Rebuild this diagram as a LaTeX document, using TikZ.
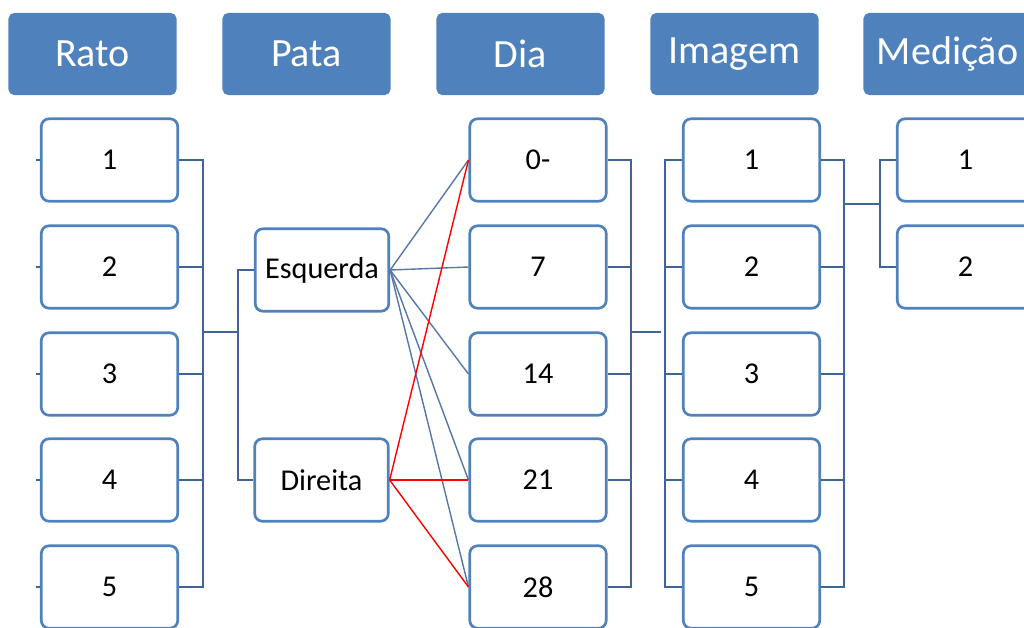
\documentclass[tikz,border=0pt]{standalone}
\usepackage{fontspec}
\setmainfont{Carlito}

\definecolor{boxblue}{RGB}{79,129,189}
\definecolor{linkblue}{RGB}{64,100,150}
\definecolor{thinblue}{RGB}{88,118,168}

\begin{document}
\begin{tikzpicture}[x=0.025cm, y=-0.025cm, font=\fontsize{21.5}{24}\selectfont]

  \tikzstyle{head}=[fill=boxblue, text=white,
    rounded corners=4pt,
    minimum width=4.2cm, minimum height=2.05cm,
    inner sep=0, font=\fontsize{28.5}{32}\selectfont]

  \tikzstyle{item}=[draw=boxblue, fill=white,
    line width=1.9pt, rounded corners=5.5pt,
    minimum width=3.41cm, minimum height=2.06cm,
    inner sep=0]

  \tikzstyle{link}=[draw=linkblue, line width=1.5pt]
  \tikzstyle{fan}=[draw=thinblue, line width=1pt]
  \tikzstyle{fanred}=[draw=red, line width=1pt]

  \useasboundingbox (0,0) rectangle (1024,627);
  \clip (0,0) rectangle (1024,627);

  \node [head] (rato) at (92.5,54) {Rato};
  \node [head] (pata) at (306.5,54) {Pata};
  \node [head] (dia) at (520.5,54) {Dia};
  \node [head] (imagem) at (734.5,54) {Imagem};
  \node [head] (medicao) at (947.5,54) {Medição};

  \foreach \n/\y in {1/160,2/267,3/374,4/480,5/587}
    \node [item] (r\n) at (109.5,\y) {\n};

  \node [item, minimum width=3.34cm] (esq) at (322,270) {Esquerda};
  \node [item, minimum width=3.34cm] (dir) at (321.5,480) {Direita};

  \foreach \n/\y/\t in {1/160/0-,2/267/7,3/374/14,4/480/21,5/587/28}
    \node [item] (d\n) at (538,\y) {\t};

  \foreach \n/\y in {1/160,2/267,3/374,4/480,5/587}
    \node [item] (i\n) at (751.5,\y) {\n};

  \node [item] (m1) at (965.5,160) {1};
  \node [item] (m2) at (965.5,267) {2};

  \foreach \n in {1,...,5}
    \draw [link] (r\n.west) -- ++(-4,0);

  \draw [link] (r1.east) -- ++(24,0) |- (r5.east);
  \foreach \n in {2,3,4}
    \draw [link] (r\n.east) -- ++(24,0);
  \coordinate (ratobus) at (203,332);
  \draw [link] (ratobus) -- ++(34,0);
  \draw [link] (esq.west) -- ++(-16,0) |- (dir.west);

  \foreach \n in {1,...,5}
    \draw [fan] (esq.east) -- (d\n.west);
  \foreach \n in {1,4,5}
    \draw [fanred] (dir.east) -- (d\n.west);

  \draw [link] (d1.east) -- ++(23,0) |- (d5.east);
  \foreach \n in {2,3,4}
    \draw [link] (d\n.east) -- ++(23,0);
  \coordinate (diabus) at (630,332);
  \draw [link] (diabus) -- ++(31,0);
  \draw [link] (i1.west) -- ++(-17,0) |- (i5.west);
  \foreach \n in {2,3,4}
    \draw [link] (i\n.west) -- ++(-17,0);

  \draw [link] (i1.east) -- ++(23,0) |- (i5.east);
  \foreach \n in {2,3,4}
    \draw [link] (i\n.east) -- ++(23,0);
  \coordinate (imgbus) at (843,204);
  \draw [link] (imgbus) -- ++(37,0);
  \draw [link] (m1.west) -- ++(-16,0) |- (m2.west);

\end{tikzpicture}
\end{document}
